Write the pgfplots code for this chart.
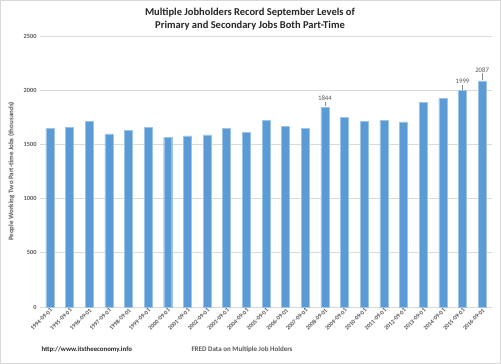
\documentclass[border=0pt]{standalone}
\usepackage{pgfplots}
\pgfplotsset{compat=1.18}
\usepackage{fontspec}
\setmainfont{Carlito}
\definecolor{barblue}{HTML}{5B9BD5}
\definecolor{txtgrey}{HTML}{595959}
\definecolor{gridgrey}{HTML}{D9D9D9}
\begin{document}
\begin{tikzpicture}[x=1pt,y=1pt]
\draw[gridgrey,line width=0.8pt,fill=white] (0.4,0.4) rectangle (500.6,363.6);
\begin{axis}[
  at={(40pt,57pt)}, anchor=south west,
  scale only axis, width=452pt, height=271pt,
  ymin=0, ymax=2500, ytick={0,500,...,2500},
  xmin=-0.5, xmax=22.5,
  xtick={0,...,22},
  xticklabels={1994-09-01,1995-09-01,1996-09-01,1997-09-01,1998-09-01,1999-09-01,2000-09-01,2001-09-01,2002-09-01,2003-09-01,2004-09-01,2005-09-01,2006-09-01,2007-09-01,2008-09-01,2009-09-01,2010-09-01,2011-09-01,2012-09-01,2013-09-01,2014-09-01,2015-09-01,2016-09-01},
  x tick label style={rotate=45, anchor=north east, font=\fontsize{6}{7}\selectfont\bfseries, text=txtgrey, inner sep=0.5pt},
  y tick label style={font=\fontsize{6.3}{7}\selectfont\bfseries, text=txtgrey},
  /pgf/number format/assume math mode=true,
  /pgf/number format/set thousands separator={},
  ymajorgrids, grid style={gridgrey, line width=0.6pt},
  axis line style={draw=none},
  major tick length=0pt,
  ylabel={People Working Two Part-time Jobs (thousands)},
  ylabel style={font=\fontsize{7}{8}\selectfont\bfseries, text=txtgrey, at={(-22pt,0.5)}, anchor=south},
  clip=false,
]
\addplot[ybar, bar width=8pt, fill=barblue, draw=barblue!60!white, line width=0.4pt] coordinates {
(0,1650) (1,1657) (2,1710) (3,1597) (4,1631) (5,1660) (6,1563) (7,1578)
(8,1587) (9,1645) (10,1612) (11,1720) (12,1667) (13,1648) (14,1844)
(15,1750) (16,1713) (17,1725) (18,1707) (19,1888) (20,1922) (21,1999) (22,2087)
};
\draw[txtgrey!70, line width=0.4pt] (axis cs:14,1850) -- (axis cs:14,1895) node[above, inner sep=1pt, font=\fontsize{6.8}{7}\selectfont, text=txtgrey] {1844};
\draw[txtgrey!70, line width=0.4pt] (axis cs:21,2005) -- (axis cs:21,2050) node[above, inner sep=1pt, font=\fontsize{6.8}{7}\selectfont, text=txtgrey] {1999};
\draw[txtgrey!70, line width=0.4pt] (axis cs:22,2093) -- (axis cs:22,2155) node[above, inner sep=1pt, font=\fontsize{6.8}{7}\selectfont, text=txtgrey] {2087};
\end{axis}
\node[font=\fontsize{10.5}{12.5}\selectfont\bfseries, align=center, text=black!85] at (250,345) {Multiple Jobholders Record September Levels of\\Primary and Secondary Jobs Both Part-Time};
\node[font=\fontsize{6.8}{7}\selectfont\bfseries, text=black!85, anchor=west] at (38,14) {http://www.itstheeconomy.info};
\node[font=\fontsize{7}{8}\selectfont\bfseries, text=txtgrey, anchor=west] at (188,14) {FRED Data on Multiple Job Holders};
\end{tikzpicture}
\end{document}
